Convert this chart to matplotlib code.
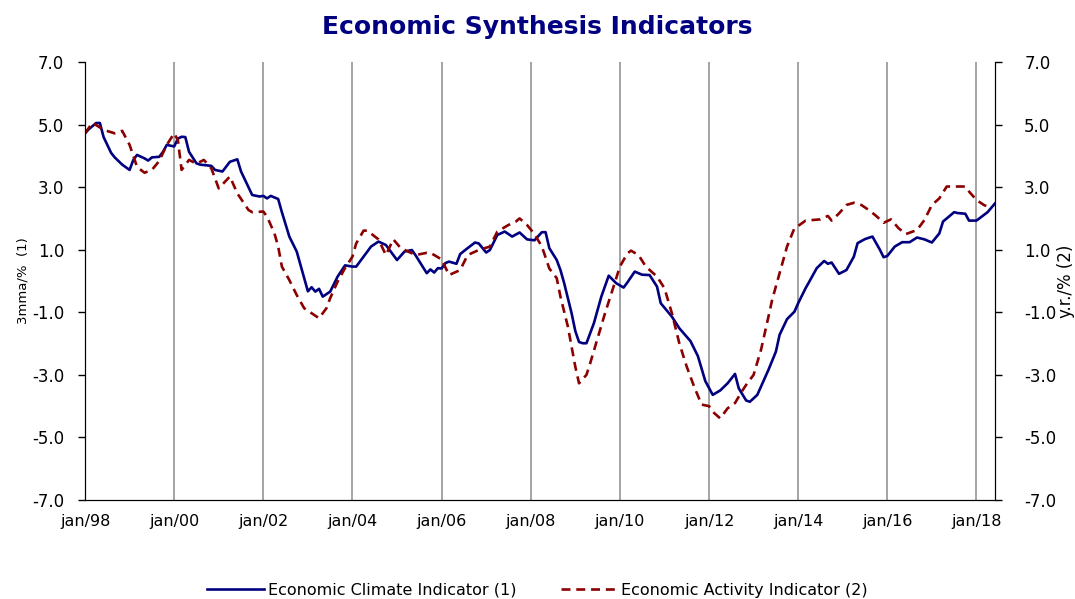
import matplotlib
matplotlib.use("Agg")
import matplotlib.pyplot as plt

# months since jan/98
eci_month = [0, 1, 3, 4, 5, 7, 8, 10, 12, 13, 14, 16, 17, 18, 20, 21, 22, 24, 25, 26,
             27, 28, 30, 31, 34, 35, 37, 39, 40, 41, 42, 44, 45, 47, 48, 49, 50, 52, 53, 55,
             57, 60, 61, 62, 63, 64, 66, 68, 70, 72, 73, 75, 77, 79, 81, 84, 86, 88, 89, 92,
             93, 94, 95, 96, 97, 98, 100, 101, 103, 105, 106, 108, 109, 111, 113, 115, 117, 119, 121, 123,
             124, 125, 127, 128, 129, 131, 132, 133, 134, 135, 137, 139, 141, 143, 145, 146, 148, 150, 152, 154,
             155, 158, 160, 163, 165, 167, 169, 171, 173, 175, 176, 178, 179, 181, 184, 186, 187, 189, 191, 192,
             194, 195, 197, 199, 200, 201, 203, 205, 207, 208, 210, 212, 214, 215, 216, 218, 220, 222, 224, 226,
             228, 230, 231, 234, 235, 237, 238, 240, 242, 243, 245]
eci_value = [4.72, 4.85, 5.05, 5.05, 4.6, 4.1, 3.95, 3.72, 3.55, 3.87, 4.03, 3.92, 3.85, 3.95, 3.97, 4.13, 4.35, 4.3, 4.55, 4.61,
             4.6, 4.13, 3.76, 3.72, 3.68, 3.55, 3.5, 3.81, 3.85, 3.89, 3.5, 3.0, 2.75, 2.7, 2.72, 2.64, 2.72, 2.62, 2.2, 1.42,
             0.94, -0.33, -0.2, -0.34, -0.25, -0.5, -0.34, 0.14, 0.5, 0.46, 0.46, 0.78, 1.1, 1.26, 1.15, 0.67, 0.94, 0.99, 0.82, 0.25,
             0.37, 0.27, 0.41, 0.4, 0.57, 0.62, 0.55, 0.86, 1.05, 1.23, 1.2, 0.91, 0.99, 1.47, 1.58, 1.42, 1.55, 1.33, 1.3, 1.56,
             1.56, 1.05, 0.67, 0.35, -0.07, -1.03, -1.6, -1.95, -1.99, -1.99, -1.35, -0.5, 0.17, -0.07, -0.21, -0.05, 0.3, 0.2, 0.19, -0.18,
             -0.71, -1.14, -1.51, -1.92, -2.4, -3.2, -3.64, -3.5, -3.27, -2.97, -3.43, -3.82, -3.86, -3.64, -2.84, -2.26, -1.72, -1.22, -0.98, -0.71,
             -0.23, -0.02, 0.41, 0.64, 0.55, 0.59, 0.23, 0.35, 0.78, 1.21, 1.34, 1.42, 1.0, 0.76, 0.8, 1.1, 1.24, 1.24, 1.39, 1.33,
             1.23, 1.52, 1.9, 2.2, 2.17, 2.15, 1.93, 1.93, 2.11, 2.2, 2.48]

eai_month = [0, 2, 5, 8, 10, 12, 14, 16, 18, 20, 22, 24, 25, 26, 28, 30, 32, 34, 36, 39,
             41, 44, 45, 48, 49, 51, 52, 53, 55, 57, 59, 61, 63, 65, 66, 68, 70, 72, 73, 75,
             76, 79, 81, 83, 85, 87, 89, 92, 93, 96, 98, 101, 103, 106, 109, 111, 114, 116, 117, 119,
             121, 123, 125, 127, 128, 130, 132, 133, 135, 136, 138, 140, 142, 144, 146, 147, 149, 151, 154, 156,
             158, 160, 162, 164, 166, 168, 169, 171, 173, 175, 177, 178, 180, 182, 184, 185, 187, 189, 191, 192,
             194, 198, 200, 201, 203, 205, 207, 209, 211, 213, 215, 217, 219, 221, 224, 226, 228, 230, 232, 237,
             238, 240, 242, 244]
eai_value = [4.72, 5.06, 4.83, 4.72, 4.8, 4.35, 3.65, 3.46, 3.55, 3.84, 4.35, 4.72, 4.5, 3.55, 3.87, 3.75, 3.87, 3.6, 2.96, 3.34,
             2.8, 2.27, 2.2, 2.22, 2.06, 1.52, 1.1, 0.46, 0.03, -0.45, -0.87, -1.03, -1.19, -0.87, -0.55, -0.02, 0.41, 0.78, 1.2, 1.61,
             1.61, 1.33, 0.83, 1.33, 1.05, 0.94, 0.83, 0.9, 0.9, 0.69, 0.19, 0.35, 0.83, 0.99, 1.1, 1.58, 1.79, 1.9, 2.0, 1.79,
             1.5, 1.1, 0.4, 0.09, -0.5, -1.46, -2.74, -3.27, -3.0, -2.63, -1.83, -1.03, -0.29, 0.46, 0.88, 0.97, 0.83, 0.46, 0.14, -0.23,
             -1.03, -1.99, -2.74, -3.38, -3.95, -4.0, -4.18, -4.39, -4.07, -3.9, -3.5, -3.32, -3.0, -2.2, -1.14, -0.6, 0.25, 1.1, 1.69, 1.76,
             1.93, 1.97, 2.08, 1.93, 2.16, 2.43, 2.5, 2.43, 2.27, 2.08, 1.86, 1.97, 1.69, 1.5, 1.63, 1.95, 2.43, 2.64, 3.02, 3.02,
             2.86, 2.59, 2.43, 2.32]

x_tick_pos = [0, 24, 48, 72, 96, 120, 144, 168, 192, 216, 240]
x_tick_labels = ["jan/98", "jan/00", "jan/02", "jan/04", "jan/06", "jan/08",
                 "jan/10", "jan/12", "jan/14", "jan/16", "jan/18"]
y_ticks = [-7, -5, -3, -1, 1, 3, 5, 7]

navy = "#000080"
darkred = "#8B0000"

fig = plt.figure(figsize=(10.75, 5.99), dpi=100)
ax = fig.add_axes([0.0791, 0.1653, 0.8465, 0.7312])
ax2 = ax.twinx()

ax.plot(eci_month, eci_value, color=navy, lw=1.9, label="Economic Climate Indicator (1)")
ax2.plot(eai_month, eai_value, color=darkred, lw=1.9, dashes=(3.4, 2.2),
         label="Economic Activity Indicator (2)")

for a in (ax, ax2):
    a.set_xlim(0, 245)
    a.set_ylim(-7, 7)
    a.set_yticks(y_ticks)
    a.set_yticklabels([f"{v:.1f}" for v in y_ticks], fontsize=12)
    a.spines["top"].set_visible(False)
ax.tick_params(axis="y", direction="out", length=5, width=1, pad=10)
ax2.tick_params(axis="y", direction="out", length=5, width=1, pad=16)

ax.set_xticks(x_tick_pos)
ax.set_xticklabels(x_tick_labels, fontsize=11.5)
ax.tick_params(axis="x", direction="out", length=0, pad=10)
ax.grid(True, axis="x", color="#8c8c8c", lw=1.1)
ax.set_axisbelow(True)

ax.set_ylabel("3mma/%  (1)", fontsize=9.5, labelpad=2)
ax2.set_ylabel("y.r./% (2)", fontsize=12)
ax2.yaxis.set_label_coords(1.0685, 0.5)

fig.suptitle("Economic Synthesis Indicators", fontsize=18, fontweight="bold",
             color=navy, x=0.5, y=0.975)

h1, l1 = ax.get_legend_handles_labels()
h2, l2 = ax2.get_legend_handles_labels()
fig.legend(h1 + h2, l1 + l2, loc="lower center", bbox_to_anchor=(0.5, -0.022), ncol=2,
           frameon=False, fontsize=11.5, handlelength=3.6, handletextpad=0.2,
           columnspacing=2.8)

fig.savefig("out.png", dpi=100)
